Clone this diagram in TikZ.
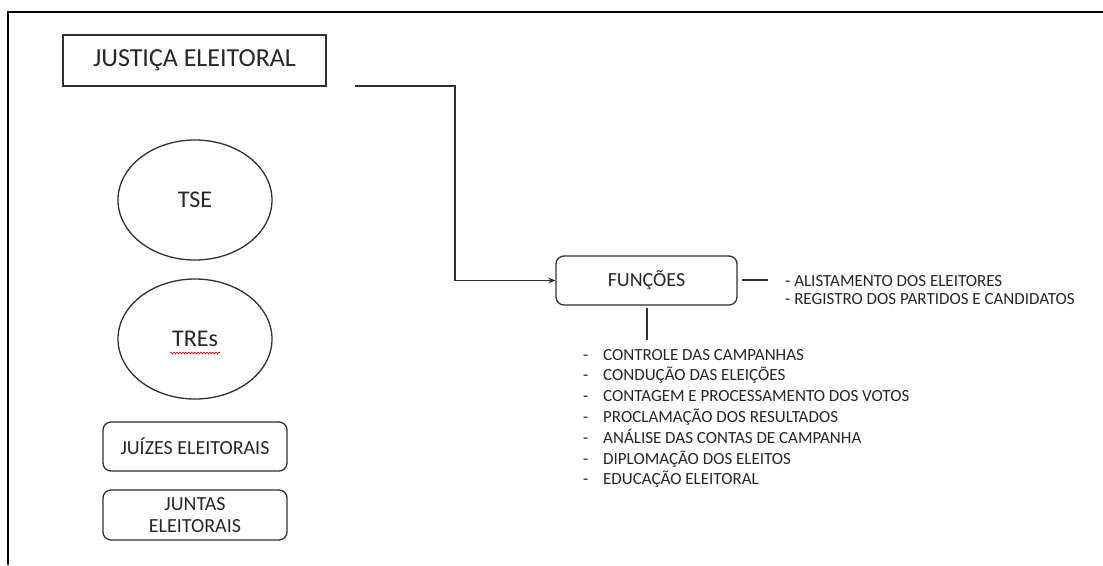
\documentclass[tikz,border=0pt]{standalone}
\usepackage{fontspec}
\setmainfont{Carlito}
\usetikzlibrary{shapes.geometric,arrows.meta,decorations.pathmorphing}
\definecolor{ink}{HTML}{262626}
\definecolor{ln}{HTML}{303030}
\begin{document}
\begin{tikzpicture}[x=1pt,y=-1pt,
  box/.style={draw=ln, line width=1.3pt, inner sep=0pt, text=ink},
  rbox/.style={box, rounded corners=8pt},
  oval/.style={ellipse, draw=ln, line width=1.3pt, inner sep=0pt, text=ink, minimum width=154pt, minimum height=120pt, font=\fontsize{24}{29}\selectfont},
  conn/.style={draw=ln, line width=1.3pt},
  txt/.style={text=ink, inner sep=0pt, align=left}]
\useasboundingbox (0,0) rectangle (1103,565);
\draw[line width=2pt] (8,565) -- (8,12) -- (1103,12);

\node[box, minimum width=263pt, minimum height=51pt, font=\fontsize{26}{30}\selectfont] (je) at (194.5,60.5) {JUSTIÇA ELEITORAL};
\node[oval] (tse) at (195,200) {TSE};
\node[oval] (tres) at (195,339) {TREs};
\draw[red!80!black, line width=0.6pt, decorate, decoration={snake, amplitude=0.9pt, segment length=3pt}] ([xshift=-25pt,yshift=-14pt]tres.center) -- ([xshift=25pt,yshift=-14pt]tres.center);

\node[rbox, minimum width=184pt, minimum height=49pt, font=\fontsize{20}{22}\selectfont] (jui) at (195,446.5) {JUÍZES ELEITORAIS};
\node[rbox, minimum width=184pt, minimum height=50pt, align=center, font=\fontsize{20}{22}\selectfont] (jun) at (195,515) {JUNTAS\\ELEITORAIS};

\node[rbox, minimum width=181pt, minimum height=49pt, font=\fontsize{20}{24}\selectfont] (fun) at (646.5,280.5) {FUNÇÕES};

\coordinate (c0) at (355,86);
\coordinate (c1) at (455,86);
\draw[conn, -{Stealth[length=7pt,width=6pt]}] (c0) -- (c1) |- (fun.west);

\coordinate (r0) at (742,280);
\coordinate (r1) at (768,280);
\draw[conn] (r0) -- (r1);
\node[txt, anchor=west, font=\fontsize{17}{18}\selectfont] (rt) at (785,290) {- ALISTAMENTO DOS ELEITORES\\- REGISTRO DOS PARTIDOS E CANDIDATOS};

\coordinate (d0) at (647,308);
\coordinate (d1) at (647,340);
\draw[conn] (d0) -- (d1);
\node[txt, anchor=west, font=\fontsize{17}{20.8}\selectfont] (list) at (583,418.5) {%
\makebox[20pt][l]{-}CONTROLE DAS CAMPANHAS\\
\makebox[20pt][l]{-}CONDUÇÃO DAS ELEIÇÕES\\
\makebox[20pt][l]{-}CONTAGEM E PROCESSAMENTO DOS VOTOS\\
\makebox[20pt][l]{-}PROCLAMAÇÃO DOS RESULTADOS\\
\makebox[20pt][l]{-}ANÁLISE DAS CONTAS DE CAMPANHA\\
\makebox[20pt][l]{-}DIPLOMAÇÃO DOS ELEITOS\\
\makebox[20pt][l]{-}EDUCAÇÃO ELEITORAL};
\end{tikzpicture}
\end{document}
